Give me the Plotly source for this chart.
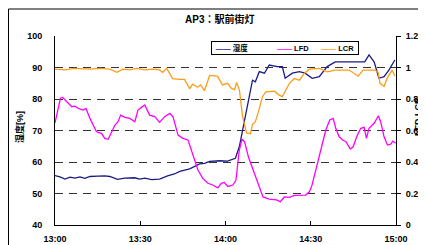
import plotly.graph_objects as go

# ---- data (minutes after 13:00) ----
humid_t = [0, 1.75, 3.5, 5.3, 7, 8.8, 10.5, 12.3, 15, 17.5, 19.3, 22, 24.5, 28, 29.8, 31.6, 34, 36.8,
           39.6, 42, 43.9, 47.4, 50.9, 52.6, 54.4, 57.9, 60.7, 63.5, 64.9, 66, 67.4, 68.4, 69.5, 70.5,
           71.9, 73.7, 75.4, 78.2, 80, 81, 83.5, 86, 88, 90.5, 93, 95.8, 98.6, 103.5, 107, 109, 110.5,
           112.3, 114, 115.8, 117.5, 119.6]
humid = [55.7, 55.3, 54.6, 55.2, 54.9, 55.3, 54.8, 55.4, 55.5, 55.6, 55.4, 54.5, 54.9, 55.0, 54.6, 54.9,
         54.4, 54.6, 55.6, 56.2, 57.0, 57.8, 59.4, 59.6, 60.2, 60.4, 60.3, 61.2, 65, 70, 76, 80, 86, 85.5,
         88.7, 88.2, 90.8, 90.3, 90.3, 86.6, 88.2, 88.7, 88.2, 86.6, 87.1, 90.3, 91.8, 91.8, 91.8, 91.8,
         94, 91.8, 86.6, 87.1, 89.2, 92.4]

lfd_t = [0, 1.2, 1.9, 2.7, 4.1, 5.9, 7, 8.2, 9.9, 10.9, 12.3, 13.4, 14.6, 16.4, 17.5, 18.7, 19.9, 21.1,
         22.2, 23.1, 24.6, 26.3, 28.1, 29.2, 30.4, 31.6, 33.3, 35.1, 36.8, 38.6, 40.4, 41.5, 43.3, 45,
         46.8, 48.5, 50.3, 52, 53.8, 55.5, 57.3, 58.5, 59.6, 60.8, 62.6, 63.7, 64.8, 65.8, 66.7, 68.1,
         69.8, 71.6, 73.2, 75.4, 77.9, 79.3, 80.7, 82.5, 84.2, 88.2, 89.5, 90.4, 91.8, 93.6, 95.3, 96.7,
         97.9, 98.8, 100, 101.2, 102.4, 103.9, 104.9, 106.4, 107.6, 108.8, 109.6, 110.5, 112.3, 113.8,
         114.6, 115.8, 117, 118.1, 118.9, 119.9]
lfd = [0.648, 0.751, 0.805, 0.81, 0.783, 0.751, 0.755, 0.74, 0.73, 0.74, 0.677, 0.635, 0.592, 0.582,
       0.55, 0.544, 0.592, 0.635, 0.656, 0.698, 0.684, 0.677, 0.656, 0.73, 0.747, 0.762, 0.698, 0.688,
       0.652, 0.688, 0.709, 0.688, 0.571, 0.55, 0.54, 0.444, 0.349, 0.296, 0.265, 0.254, 0.236, 0.265,
       0.27, 0.245, 0.254, 0.286, 0.47, 0.545, 0.529, 0.43, 0.349, 0.255, 0.178, 0.165, 0.159, 0.148,
       0.178, 0.175, 0.188, 0.19, 0.211, 0.25, 0.349, 0.476, 0.603, 0.667, 0.677, 0.614, 0.56, 0.54,
       0.529, 0.483, 0.497, 0.571, 0.614, 0.62, 0.55, 0.614, 0.646, 0.694, 0.656, 0.56, 0.508, 0.514,
       0.533, 0.519]

lcr_t = [0, 3.5, 7, 12.3, 15.8, 19.3, 21.8, 23.9, 26.3, 28.8, 31.6, 34.4, 36.8, 37.9, 39.3, 41.4, 43.9,
         45.6, 47.4, 48.4, 50.2, 51.2, 52.6, 54.4, 57.2, 58.9, 60.7, 62.1, 63.2, 63.9, 64.9, 66, 67.4,
         68.8, 69.5, 70.5, 71.6, 73, 74.2, 77.2, 78.9, 80, 82.5, 84.2, 86, 87.7, 89.5, 93, 95.8, 98.6,
         103.5, 106.7, 108.4, 112.6, 113.7, 114.4, 115.8, 116.8, 118.6, 119.6]
lcr = [0.99, 0.985, 0.995, 0.99, 0.995, 0.99, 0.97, 0.99, 0.985, 0.995, 0.985, 0.99, 0.985, 0.97, 0.995,
       0.93, 0.925, 0.925, 0.865, 0.895, 0.875, 0.89, 0.853, 0.95, 0.945, 0.89, 0.9, 0.868, 0.86, 0.905,
       0.857, 0.69, 0.585, 0.58, 0.64, 0.656, 0.72, 0.815, 0.846, 0.85, 0.825, 0.815, 0.9, 0.93, 0.92,
       0.963, 0.99, 0.995, 0.973, 0.984, 0.984, 0.945, 0.984, 0.984, 0.97, 0.9, 0.88, 0.93, 0.984, 0.946]

series_names = ["湿度", "LFD", "LCR"]
series_colors = ["#1b1b86", "#ff00ff", "#ff9c1a"]

x_tick_vals = [0, 30, 60, 90, 120]
x_tick_labels = ["13:00", "13:30", "14:00", "14:30", "15:00"]
y_left_ticks = [40, 50, 60, 70, 80, 90, 100]
y_right_ticks = [0, 0.2, 0.4, 0.6, 0.8, 1.0, 1.2]
y_right_labels = ["0", "0.2", "0.4", "0.6", "0.8", "1", "1.2"]

title_text = "AP3：駅前街灯"
left_title = "湿度[%]"
right_title = "LFD LCR"

FONT = "Liberation Sans, Arial, Noto Sans CJK JP"
OFF = 8  # page body margin
W, H = 426 - OFF, 245 - OFF
# plot area in page pixels: x 55..396, y 36..225
ML, MT = 55 - OFF, 36 - OFF
MR = W - (396 - OFF)
MB = H - (225 - OFF)
pw, ph = W - ML - MR, H - MT - MB

def px(x):
    return (x - OFF - ML) / pw

def py(y):
    return 1 - (y - OFF - MT) / ph

fig = go.Figure()
fig.add_trace(go.Scatter(x=humid_t, y=humid, name=series_names[0], mode="lines",
                         line=dict(color=series_colors[0], width=1.3)))
fig.add_trace(go.Scatter(x=lfd_t, y=lfd, name=series_names[1], mode="lines", yaxis="y2",
                         line=dict(color=series_colors[1], width=1.3)))
fig.add_trace(go.Scatter(x=lcr_t, y=lcr, name=series_names[2], mode="lines", yaxis="y2",
                         line=dict(color=series_colors[2], width=1.3)))

tickfont = dict(family=FONT, size=9, color="black", weight="bold")

NB = "\u00a0"
dash = "——"
legend_text = (
    f'<span style="color:{series_colors[0]}">{dash}</span>{NB}{series_names[0]}' + NB * 14 +
    f'<span style="color:{series_colors[1]}">{dash}</span>{NB}{series_names[1]}' + NB * 6 +
    f'<span style="color:{series_colors[2]}">{dash}</span>{NB}{series_names[2]}'
)

fig.update_layout(
    width=W, height=H,
    margin=dict(l=ML, r=MR, t=MT, b=MB, autoexpand=False),
    paper_bgcolor="white", plot_bgcolor="white",
    showlegend=False,
    xaxis=dict(range=[0, 120], tickvals=x_tick_vals, ticktext=x_tick_labels,
               showgrid=False, zeroline=False, showline=True, linecolor="black", linewidth=1,
               ticks="inside", ticklen=4, tickcolor="black", tickfont=tickfont,
               ticklabelstandoff=5, ticklabeloverflow="allow"),
    yaxis=dict(range=[40, 100.02], tickvals=y_left_ticks, showgrid=True, gridcolor="#333333",
               griddash="8px,6px", gridwidth=1, zeroline=False, showline=True, linecolor="black",
               linewidth=1, ticks="", tickfont=tickfont, ticklabelstandoff=10,
               ticklabeloverflow="allow"),
    yaxis2=dict(range=[0, 1.2004], tickvals=y_right_ticks, ticktext=y_right_labels, overlaying="y",
                side="right", showgrid=False, zeroline=False, showline=True, linecolor="black",
                linewidth=1, ticks="outside", ticklen=4, tickcolor="black", tickfont=tickfont,
                ticklabelstandoff=3, ticklabeloverflow="allow"),
    shapes=[dict(type="rect", xref="paper", yref="paper", x0=px(8.5), x1=px(470), y0=py(300), y1=py(9),
                 line=dict(color="black", width=1), fillcolor="rgba(0,0,0,0)", layer="above")],
    annotations=[
        dict(text=title_text, x=px(219), y=py(19), xref="paper", yref="paper", showarrow=False,
             xanchor="center", yanchor="middle",
             font=dict(family=FONT, size=10, color="black", weight="bold")),
        dict(text=left_title, x=px(20), y=py(127), xref="paper", yref="paper", showarrow=False,
             xanchor="center", yanchor="middle",
             textangle=-90, font=dict(family=FONT, size=9, color="black", weight="bold")),
        dict(text=right_title, x=px(418), y=py(117), xref="paper", yref="paper", showarrow=False,
             xanchor="center", yanchor="middle", bgcolor="rgba(0,0,0,0)",
             textangle=-90, font=dict(family=FONT, size=9, color="black", weight="bold")),
        dict(text=legend_text, x=px(211), y=py(40.5), xref="paper", yref="paper", showarrow=False,
             xanchor="left", yanchor="top", align="center", width=144, height=10, borderpad=1,
             bgcolor="white", bordercolor="black", borderwidth=1,
             font=dict(family=FONT, size=7.5, color="black", weight="bold")),
    ],
)

fig.write_html("out.html")
